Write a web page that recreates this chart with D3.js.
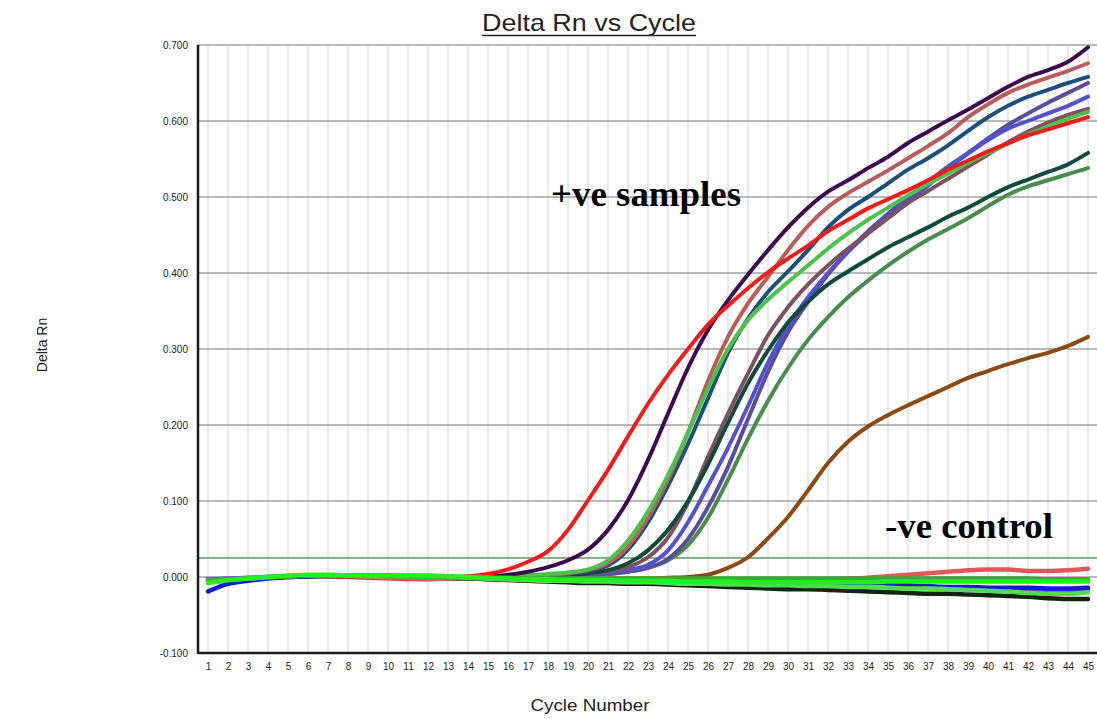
<!DOCTYPE html>
<html>

<head>
    <meta charset="utf-8">
    <title>Delta Rn vs Cycle</title>
    <script src="https://d3js.org/d3.v7.min.js"></script>
    <style>
        body {
            margin: 0;
            background: #fff;
        }

        .tick text {
            font-family: Arial, "Liberation Sans", sans-serif;
            font-size: 10px;
            fill: #222;
        }

        .annotation {
            font-family: "Times New Roman", "Liberation Serif", serif;
            font-weight: 700;
            font-size: 35px;
            fill: #000;
        }
    </style>
</head>

<body>
    <div id="chart"></div>

    <script>
        const width = 1097, height = 719

        // cycle numbers and y tick values
        const cycles = d3.range(1, 46)
        const yTicks = [-0.1, 0, 0.1, 0.2, 0.3, 0.4, 0.5, 0.6, 0.7]
        const threshold = 0.025

        // positive samples (Delta Rn per cycle 1..45)
        const redSample = [-0.004, -0.004, -0.003, -0.001, 0.001, 0.001, 0.001, 0.000, -0.001, -0.002, -0.003, -0.003, -0.001,
            0.001, 0.004, 0.010, 0.020, 0.034, 0.062, 0.101, 0.141, 0.185, 0.228, 0.266, 0.300, 0.332, 0.357, 0.380, 0.401,
            0.419, 0.436, 0.455, 0.470, 0.485, 0.497, 0.509, 0.522, 0.536, 0.548, 0.560, 0.571, 0.581, 0.589, 0.597, 0.605]
        const purpleSample = [-0.006, -0.004, -0.002, 0.000, 0.001, 0.002, 0.002, 0.002, 0.002, 0.001, 0.001, 0.000, 0.000, 0.000, 0.001,
            0.003, 0.007, 0.013, 0.022, 0.036, 0.062, 0.101, 0.154, 0.215, 0.275, 0.325, 0.364, 0.398, 0.430, 0.460,
            0.486, 0.507, 0.522, 0.538, 0.553, 0.571, 0.586, 0.601, 0.615, 0.630, 0.645, 0.658, 0.667, 0.678, 0.697]
        const limeSample = [-0.008, -0.005, -0.003, -0.001, 0.001, 0.002, 0.002, 0.002, 0.002, 0.001, 0.001, 0.001, 0.000, 0.000, 0.000, 0.001,
            0.002, 0.004, 0.006, 0.010, 0.022, 0.048, 0.086, 0.134, 0.190, 0.248, 0.300, 0.338, 0.365, 0.388, 0.410,
            0.432, 0.452, 0.470, 0.486, 0.502, 0.517, 0.531, 0.545, 0.558, 0.570, 0.582, 0.593, 0.603, 0.612]
        const rosySample = [-0.006, -0.004, -0.002, 0.000, 0.001, 0.002, 0.002, 0.002, 0.002, 0.001, 0.001, 0.000, 0.000, 0.000, 0.000, 0.001, 0.002,
            0.003, 0.005, 0.009, 0.018, 0.040, 0.078, 0.128, 0.190, 0.258, 0.316, 0.360, 0.395, 0.430, 0.462,
            0.487, 0.505, 0.520, 0.535, 0.551, 0.567, 0.584, 0.605, 0.622, 0.637, 0.648, 0.657, 0.666, 0.676]
        const tealSample = [-0.006, -0.004, -0.002, 0.000, 0.001, 0.002, 0.002, 0.002, 0.002, 0.001, 0.001, 0.000, 0.000, 0.000, 0.000, 0.001, 0.001,
            0.002, 0.004, 0.008, 0.015, 0.036, 0.072, 0.120, 0.175, 0.235, 0.295, 0.340, 0.375, 0.402, 0.430,
            0.460, 0.483, 0.500, 0.518, 0.536, 0.551, 0.568, 0.587, 0.605, 0.620, 0.632, 0.641, 0.650, 0.658]
        const darkGreenSample = [-0.005, -0.004, -0.002, 0.000, 0.001, 0.002, 0.002, 0.002, 0.001, 0.001, 0.000, 0.000, 0.000, 0.000, 0.000, 0.001, 0.001, 0.002,
            0.003, 0.005, 0.009, 0.018, 0.035, 0.062, 0.100, 0.148, 0.203, 0.255, 0.298, 0.335, 0.362,
            0.385, 0.402, 0.418, 0.434, 0.447, 0.460, 0.474, 0.486, 0.500, 0.513, 0.523, 0.533, 0.543, 0.558]
        const mauveSample = [-0.005, -0.004, -0.002, 0.000, 0.001, 0.002, 0.002, 0.002, 0.001, 0.001, 0.000, 0.000, 0.000, 0.000, 0.000, 0.000, 0.001, 0.001,
            0.002, 0.004, 0.007, 0.013, 0.026, 0.052, 0.098, 0.158, 0.215, 0.268, 0.318, 0.355, 0.385,
            0.410, 0.432, 0.452, 0.472, 0.492, 0.508, 0.524, 0.540, 0.556, 0.572, 0.586, 0.598, 0.608, 0.616]
        const violetSample = [-0.006, -0.004, -0.002, 0.000, 0.001, 0.002, 0.002, 0.002, 0.001, 0.001, 0.000, 0.000, 0.000, 0.000, 0.000, 0.000, 0.001, 0.001, 0.002,
            0.003, 0.005, 0.009, 0.016, 0.035, 0.072, 0.120, 0.170, 0.225, 0.282, 0.330, 0.368,
            0.400, 0.428, 0.452, 0.474, 0.495, 0.515, 0.538, 0.557, 0.575, 0.590, 0.600, 0.610, 0.620, 0.632]
        const slateSample = [-0.006, -0.004, -0.002, 0.000, 0.001, 0.002, 0.002, 0.002, 0.001, 0.001, 0.000, 0.000, 0.000, 0.000, 0.000, 0.000, 0.000, 0.001, 0.001,
            0.002, 0.004, 0.007, 0.012, 0.024, 0.050, 0.092, 0.145, 0.208, 0.270, 0.322, 0.362,
            0.398, 0.428, 0.455, 0.478, 0.500, 0.520, 0.540, 0.558, 0.577, 0.595, 0.610, 0.624, 0.637, 0.650]
        const mediumGreenSample = [-0.006, -0.004, -0.002, 0.000, 0.001, 0.002, 0.002, 0.002, 0.001, 0.001, 0.000, 0.000, 0.000, 0.000, 0.000, 0.000, 0.000, 0.001, 0.001,
            0.002, 0.004, 0.007, 0.012, 0.022, 0.042, 0.078, 0.128, 0.182, 0.232, 0.275, 0.312,
            0.342, 0.368, 0.390, 0.410, 0.428, 0.444, 0.458, 0.472, 0.488, 0.503, 0.514, 0.522, 0.530, 0.538]
        const brownSample = [-0.004, -0.003, -0.002, 0.000, 0.001, 0.002, 0.002, 0.001, 0.000, -0.001, -0.002, -0.002, -0.002, -0.001, -0.002,
            -0.002, -0.002, -0.002, -0.002, -0.002, -0.002, -0.002, -0.002, -0.001,
            0.000, 0.003, 0.012, 0.026, 0.051, 0.079, 0.114, 0.150, 0.178, 0.198, 0.213, 0.226, 0.238, 0.250,
            0.262, 0.271, 0.280, 0.288, 0.295, 0.304, 0.316]

        // negative controls
        const negRed = [-0.004, -0.003, -0.002, 0.000, 0.001, 0.002, 0.002, 0.001, 0.000, -0.001,
            -0.002, -0.003, -0.002, -0.001, -0.002, -0.003, -0.004, -0.005, -0.005, -0.005,
            -0.005, -0.005, -0.005, -0.004, -0.004, -0.004, -0.004, -0.003, -0.003, -0.003,
            -0.003, -0.003, -0.002, -0.001, 0.001, 0.003, 0.005, 0.007, 0.009, 0.010,
            0.010, 0.008, 0.008, 0.009, 0.011]
        const negBlack = [-0.003, -0.003, -0.002, -0.001, 0.000, 0.001, 0.001, 0.001, 0.000, 0.000,
            -0.001, -0.001, -0.002, -0.002, -0.003, -0.004, -0.005, -0.006, -0.007, -0.008,
            -0.008, -0.009, -0.009, -0.010, -0.011, -0.012, -0.013, -0.014, -0.015, -0.016,
            -0.016, -0.017, -0.018, -0.019, -0.020, -0.021, -0.022, -0.022, -0.023, -0.024,
            -0.025, -0.026, -0.028, -0.029, -0.029]
        const negBlue = [-0.019, -0.009, -0.005, -0.002, 0.000, 0.001, 0.002, 0.002, 0.002, 0.002,
            0.001, 0.001, 0.000, -0.001, -0.002, -0.003, -0.003, -0.003, -0.003, -0.003,
            -0.003, -0.003, -0.004, -0.004, -0.005, -0.005, -0.006, -0.006, -0.007, -0.007,
            -0.008, -0.008, -0.009, -0.009, -0.010, -0.011, -0.012, -0.013, -0.013, -0.014,
            -0.014, -0.014, -0.015, -0.015, -0.014]
        const negPurple = [-0.003, -0.002, -0.001, 0.000, 0.001, 0.001, 0.002, 0.002, 0.001, 0.001,
            0.000, 0.000, 0.000, -0.001, -0.002, -0.002, -0.003, -0.003, -0.004, -0.004,
            -0.005, -0.005, -0.006, -0.006, -0.007, -0.007, -0.008, -0.008, -0.009, -0.009,
            -0.010, -0.010, -0.011, -0.011, -0.012, -0.012, -0.013, -0.014, -0.015, -0.016,
            -0.017, -0.017, -0.018, -0.018, -0.018]
        const negGreenLight = [-0.006, -0.004, -0.002, 0.000, 0.001, 0.002, 0.002, 0.002, 0.001, 0.001,
            0.001, 0.000, 0.000, -0.001, -0.002, -0.003, -0.004, -0.005, -0.005, -0.006,
            -0.006, -0.007, -0.007, -0.008, -0.009, -0.009, -0.010, -0.010, -0.011, -0.011,
            -0.012, -0.012, -0.013, -0.013, -0.014, -0.015, -0.015, -0.016, -0.017, -0.018,
            -0.019, -0.021, -0.022, -0.022, -0.020]
        const negGreenMid = [-0.005, -0.003, -0.002, 0.000, 0.001, 0.002, 0.002, 0.002, 0.002, 0.001,
            0.001, 0.001, 0.000, 0.000, -0.001, -0.001, -0.002, -0.002, -0.002, -0.002,
            -0.002, -0.002, -0.002, -0.002, -0.002, -0.002, -0.002, -0.002, -0.002, -0.002,
            -0.002, -0.002, -0.002, -0.002, -0.002, -0.002, -0.002, -0.002, -0.002, -0.002,
            -0.002, -0.002, -0.003, -0.003, -0.003]
        const negGreenBright = [-0.008, -0.004, -0.002, 0.000, 0.002, 0.003, 0.003, 0.002, 0.002, 0.002,
            0.002, 0.002, 0.001, 0.000, -0.001, -0.002, -0.003, -0.003, -0.004, -0.004,
            -0.004, -0.005, -0.005, -0.005, -0.006, -0.006, -0.006, -0.007, -0.007, -0.007,
            -0.007, -0.007, -0.007, -0.007, -0.006, -0.006, -0.006, -0.006, -0.006, -0.006,
            -0.006, -0.006, -0.006, -0.006, -0.006]

        const positives = [
            { values: brownSample, color: "#8a4a12" },
            { values: mediumGreenSample, color: "#4a8c4e" },
            { values: slateSample, color: "#5a4e9c" },
            { values: violetSample, color: "#5252cc" },
            { values: mauveSample, color: "#7e5060" },
            { values: darkGreenSample, color: "#0f4a3c" },
            { values: tealSample, color: "#1b4f7c" },
            { values: rosySample, color: "#b85c5c" },
            { values: limeSample, color: "#4cc24c" },
            { values: purpleSample, color: "#3c0a4e" },
            { values: redSample, color: "#ee1c1c" }
        ]
        const negatives = [
            { values: negBlack, color: "#102410" },
            { values: negPurple, color: "#6a40d8" },
            { values: negBlue, color: "#1a1ad2" },
            { values: negRed, color: "#e25858" },
            { values: negGreenLight, color: "#52dc52" },
            { values: negGreenMid, color: "#30b030" },
            { values: negGreenBright, color: "#22ee22" }
        ]

        const svg = d3.select("#chart")
            .append("svg")
            .attr("width", width)
            .attr("height", height)

        // 20px per cycle, plot runs off the right edge like the original
        const x = d3.scaleLinear().domain([0.5, 45.45]).range([198, 1097])
        const y = d3.scaleLinear().domain([-0.1, 0.7]).range([653, 45])

        // vertical grid
        svg.append("g")
            .selectAll("line")
            .data(cycles)
            .enter()
            .append("line")
            .attr("x1", d => x(d)).attr("x2", d => x(d))
            .attr("y1", y(0.7)).attr("y2", y(-0.1))
            .attr("stroke", "#d2d2d2")
            .attr("stroke-width", 1)

        // horizontal grid
        svg.append("g")
            .selectAll("line")
            .data(yTicks)
            .enter()
            .append("line")
            .attr("x1", x.range()[0]).attr("x2", x.range()[1])
            .attr("y1", d => y(d)).attr("y2", d => y(d))
            .attr("stroke", "#a0a0a0")
            .attr("stroke-width", 1.5)

        // threshold
        svg.append("line")
            .attr("x1", x.range()[0]).attr("x2", x.range()[1])
            .attr("y1", y(threshold)).attr("y2", y(threshold))
            .attr("stroke", "#5e9a5e")
            .attr("stroke-width", 1.3)

        // axes
        const yAxis = svg.append("g")
            .attr("transform", `translate(${x.range()[0]},0)`)
            .call(d3.axisLeft(y).tickValues(yTicks).tickFormat(d => d.toFixed(3)).tickSize(0).tickPadding(10))
        yAxis.select(".domain").remove()

        const xAxis = svg.append("g")
            .attr("transform", `translate(0,${y(-0.1)})`)
            .call(d3.axisBottom(x).tickValues(cycles).tickFormat(d3.format("d")).tickSize(0).tickPadding(10))
        xAxis.select(".domain").remove()

        svg.append("line")
            .attr("x1", x.range()[0]).attr("x2", x.range()[0])
            .attr("y1", y(0.7)).attr("y2", y(-0.1) + 1)
            .attr("stroke", "#1a1a1a").attr("stroke-width", 2.5)
        svg.append("line")
            .attr("x1", x.range()[0]).attr("x2", x.range()[1])
            .attr("y1", y(-0.1)).attr("y2", y(-0.1))
            .attr("stroke", "#1a1a1a").attr("stroke-width", 2.5)

        // curves
        const line = d3.line()
            .x((d, i) => x(cycles[i]))
            .y(d => y(d))
            .curve(d3.curveMonotoneX)

        const curves = svg.append("g")
            .attr("fill", "none")
            .attr("stroke-linejoin", "round")
            .attr("stroke-linecap", "round")

        curves.selectAll(".pos")
            .data(positives)
            .enter()
            .append("path")
            .attr("class", "pos")
            .attr("d", d => line(d.values))
            .attr("stroke", d => d.color)
            .attr("stroke-width", 4)

        curves.selectAll(".neg")
            .data(negatives)
            .enter()
            .append("path")
            .attr("class", "neg")
            .attr("d", d => line(d.values))
            .attr("stroke", d => d.color)
            .attr("stroke-width", 4.5)

        // titles
        const title = svg.append("text")
            .attr("x", 589)
            .attr("y", 31)
            .attr("text-anchor", "middle")
            .attr("font-family", "Arial, 'Liberation Sans', sans-serif")
            .attr("font-size", 24)
            .attr("textLength", 214)
            .attr("lengthAdjust", "spacingAndGlyphs")
            .attr("fill", "#222")
            .text("Delta Rn vs Cycle")
        const tb = title.node().getBBox()
        svg.append("line")
            .attr("x1", tb.x).attr("x2", tb.x + tb.width)
            .attr("y1", 35.5).attr("y2", 35.5)
            .attr("stroke", "#222").attr("stroke-width", 1.5)

        svg.append("text")
            .attr("transform", "translate(47,345) rotate(-90)")
            .attr("text-anchor", "middle")
            .attr("font-family", "Arial, 'Liberation Sans', sans-serif")
            .attr("font-size", 14)
            .attr("fill", "#222")
            .text("Delta Rn")

        svg.append("text")
            .attr("x", 590)
            .attr("y", 711)
            .attr("text-anchor", "middle")
            .attr("font-family", "Arial, 'Liberation Sans', sans-serif")
            .attr("font-size", 17)
            .attr("textLength", 119)
            .attr("lengthAdjust", "spacingAndGlyphs")
            .attr("fill", "#222")
            .text("Cycle Number")

        // annotations
        svg.append("text")
            .attr("class", "annotation")
            .attr("x", 551)
            .attr("y", 206)
            .attr("textLength", 190)
            .attr("lengthAdjust", "spacingAndGlyphs")
            .text("+ve samples")

        svg.append("text")
            .attr("class", "annotation")
            .attr("x", 885)
            .attr("y", 538)
            .attr("textLength", 168)
            .attr("lengthAdjust", "spacingAndGlyphs")
            .text("-ve control")
    </script>

</body>

</html>
